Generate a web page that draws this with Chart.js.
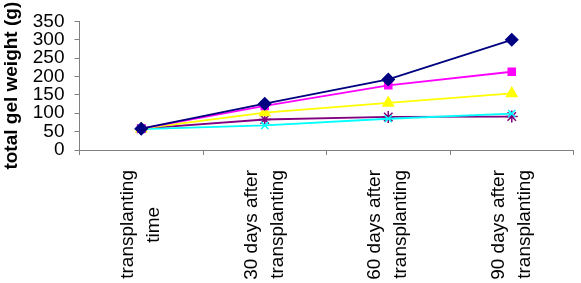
<!DOCTYPE html>
<html>
<head>
<meta charset="utf-8">
<script src="https://cdn.jsdelivr.net/npm/chart.js@4"></script>
<style>
  html, body { margin: 0; padding: 0; background: #fff; }
  #wrap { width: 581px; height: 283px; }
</style>
</head>
<body>
<div id="wrap"><canvas id="gelChart"></canvas></div>
<script>
// categories (x axis); the short second line is padded so it sits centred
const stages = [
  ['transplanting', 'time\u00a0\u00a0\u00a0\u00a0\u00a0\u00a0\u00a0'],
  ['30 days after', 'transplanting'],
  ['60 days after', 'transplanting'],
  ['90 days after', 'transplanting']
];

// series values (g)
const seriesA = [58, 126, 192, 300];   // navy diamonds
const seriesB = [58, 120, 176, 213];   // magenta squares
const seriesC = [58, 102, 128, 154];   // yellow triangles
const seriesD = [57, 67, 85, 99];      // cyan crosses
const seriesE = [58, 83, 90, 91];      // purple stars

// y axis ticks
const yMin = 0;
const yMax = 350;
const yStep = 50;

Chart.defaults.font.family = '"Liberation Sans", Arial, sans-serif';
Chart.defaults.color = '#000';

function makeSet(data, color, shape, size) {
  return {
    data: data,
    borderColor: color,
    backgroundColor: color,
    pointBackgroundColor: color,
    pointBorderColor: color,
    pointStyle: shape,
    pointRadius: size,
    pointBorderWidth: 1.5,
    borderWidth: 1.8,
    tension: 0,
    fill: false
  };
}

const ctx = document.getElementById('gelChart').getContext('2d');
new Chart(ctx, {
  type: 'line',
  data: {
    labels: stages,
    datasets: [
      makeSet(seriesA, '#000080', 'rectRot', 6),
      makeSet(seriesB, '#FF00FF', 'rect', 5),
      makeSet(seriesC, '#FFFF00', 'triangle', 6),
      makeSet(seriesD, '#00FFFF', 'crossRot', 5),
      makeSet(seriesE, '#800080', 'star', 6)
    ]
  },
  options: {
    responsive: true,
    maintainAspectRatio: false,
    animation: false,
    layout: { padding: { top: 10, right: 1, bottom: 0, left: 0 } },
    plugins: {
      legend: { display: false },
      tooltip: { enabled: false }
    },
    scales: {
      x: {
        offset: true,
        afterFit: function(scale) { scale.height = 133; },
        grid: {
          offset: true,
          drawOnChartArea: false,
          color: '#808080',
          tickLength: 5
        },
        border: { color: '#808080', width: 1 },
        ticks: {
          maxRotation: 90,
          minRotation: 90,
          autoSkip: false,
          padding: 15,
          labelOffset: -13,
          font: { size: 19, lineHeight: 1.35 },
          color: '#000'
        }
      },
      y: {
        min: yMin,
        max: yMax,
        grid: {
          drawOnChartArea: false,
          color: '#808080',
          tickLength: 5
        },
        border: { color: '#808080', width: 1 },
        ticks: {
          stepSize: yStep,
          autoSkip: false,
          padding: 10,
          font: { size: 19 },
          color: '#000'
        },
        title: {
          display: true,
          text: 'total gel weight (g)',
          font: { size: 19, weight: 'bold' },
          color: '#000',
          padding: { top: 0, bottom: 0 }
        }
      }
    }
  }
});
</script>
</body>
</html>
